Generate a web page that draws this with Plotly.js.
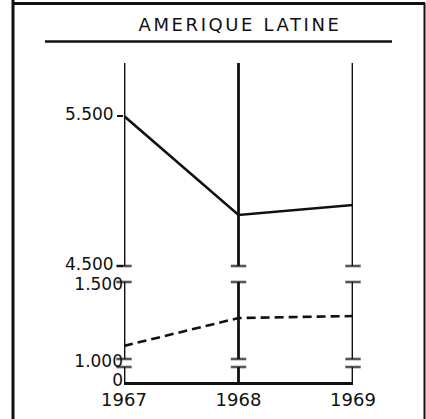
<!DOCTYPE html>
<html>
<head>
<meta charset="utf-8">
<script src="https://cdn.plot.ly/plotly-3.0.1.min.js"></script>
<style>
html,body{margin:0;padding:0;background:#fff;}
#chart{width:426px;height:419px;}
.gtitle{letter-spacing:2.6px;}
</style>
</head>
<body>
<div id="chart"></div>
<script>
// ---- data ----
const years = [1967, 1968, 1969];
const yearLabels = ['1967', '1968', '1969'];
const upperSeries = [5500, 4840, 4907];   // solid line
const lowerSeries = [1085, 1266, 1279];   // dashed line
const upperRange = [4500, 5853];
const middleRange = [1000, 1500];
const bottomRange = [0, 100];
const upperTicks = [4500, 5500];
const upperTickText = ['4.500', '5.500'];
const middleTicks = [1000, 1500];
const middleTickText = ['1.000', '1.500'];
const bottomTicks = [0];
const bottomTickText = ['0'];
const titleText = 'AMERIQUE LATINE';

const FONT = 'DejaVu Sans, Arial, sans-serif';
const black = '#111';

const traces = [];
// vertical scale lines for each year in each panel, with caps
function vert(yax, lo, hi, capLo, capHi) {
  years.forEach(yr => {
    traces.push({
      x: [yr, yr], y: [lo, hi], yaxis: yax, type: 'scatter', mode: 'lines+markers',
      line: {color: black, width: 2.8},
      marker: {symbol: 'line-ew', size: [capLo ? 11 : 0, capHi ? 11 : 0],
               line: {color: black, width: 2.6}, color: black},
      hoverinfo: 'skip', showlegend: false, cliponaxis: false
    });
  });
}
vert('y3', upperRange[0], upperRange[1], true, false);
vert('y2', middleRange[0], middleRange[1], true, true);
vert('y', bottomRange[0], bottomRange[1], false, true);

traces.push({
  x: years, y: upperSeries, yaxis: 'y3', type: 'scatter', mode: 'lines',
  line: {color: black, width: 2.6}, showlegend: false, cliponaxis: false
});
traces.push({
  x: years, y: lowerSeries, yaxis: 'y2', type: 'scatter', mode: 'lines',
  line: {color: black, width: 2.6, dash: '9px,5px'}, showlegend: false, cliponaxis: false
});

const H = 419, W = 426;
const px = v => v / W;
const py = v => 1 - v / H;

const layout = {
  width: W, height: H,
  margin: {l: 0, r: 0, t: 0, b: 0},
  paper_bgcolor: '#fff', plot_bgcolor: 'rgba(0,0,0,0)',
  font: {family: FONT, color: black, size: 17},
  title: {text: titleText, x: px(240), y: py(25), xanchor: 'center', yanchor: 'middle',
          xref: 'paper', yref: 'paper', font: {family: FONT, size: 18, color: black}},
  xaxis: {
    domain: [px(124), px(353)], range: [1967, 1969], anchor: 'y',
    tickvals: years, ticktext: yearLabels, ticks: '', showgrid: false, zeroline: false,
    showline: true, linecolor: black, linewidth: 2.8,
    tickfont: {family: FONT, size: 18, color: black}
  },
  yaxis: {
    domain: [py(382), py(367)], range: bottomRange, anchor: 'x',
    tickvals: bottomTicks, ticktext: bottomTickText, ticks: '', ticklabelshift: -2,
    showgrid: false, zeroline: false, showline: false,
    tickfont: {family: FONT, size: 17, color: black}
  },
  yaxis2: {
    domain: [py(359), py(282)], range: middleRange, anchor: 'x',
    tickvals: middleTicks, ticktext: middleTickText, ticks: '', ticklabelshift: 2,
    showgrid: false, zeroline: false, showline: false,
    tickfont: {family: FONT, size: 17, color: black}
  },
  yaxis3: {
    domain: [py(266), py(63)], range: upperRange, anchor: 'x',
    tickvals: upperTicks, ticktext: upperTickText, ticks: 'outside', ticklen: 6,
    tickwidth: 2, tickcolor: black, ticklabelshift: -2,
    showgrid: false, zeroline: false, showline: false,
    tickfont: {family: FONT, size: 17, color: black}
  },
  shapes: [
    {type: 'line', xref: 'paper', yref: 'paper', x0: px(13), x1: px(13), y0: 0, y1: 1,
     line: {color: black, width: 3}},
    {type: 'line', xref: 'paper', yref: 'paper', x0: px(13), x1: px(425), y0: py(3.5), y1: py(3.5),
     line: {color: black, width: 3}},
    {type: 'line', xref: 'paper', yref: 'paper', x0: px(424.5), x1: px(424.5), y0: 0, y1: py(3),
     line: {color: black, width: 2}},
    {type: 'line', xref: 'paper', yref: 'paper', x0: px(45), x1: px(392), y0: py(41.5), y1: py(41.5),
     line: {color: black, width: 2.4}}
  ]
};

Plotly.newPlot('chart', traces, layout, {staticPlot: true, displayModeBar: false});
</script>
</body>
</html>
